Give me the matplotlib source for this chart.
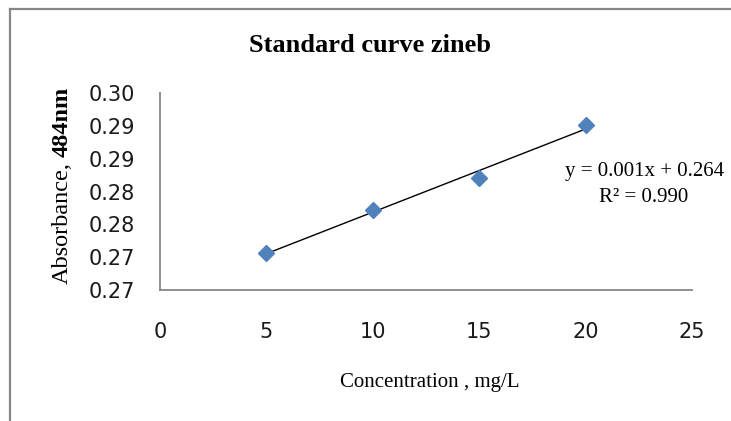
import numpy as np
import matplotlib
matplotlib.use("Agg")
import matplotlib.pyplot as plt
from matplotlib.lines import Line2D

# Calibration data: zineb standard solutions
concentration = [5, 10, 15, 20]                 # mg/L
absorbance = [0.2707, 0.2772, 0.2820, 0.2902]   # at 484 nm

x_ticks = [0, 5, 10, 15, 20, 25]
y_ticks = [0.265, 0.270, 0.275, 0.280, 0.285, 0.290, 0.295]
y_tick_labels = ["0.27", "0.27", "0.28", "0.28", "0.29", "0.29", "0.30"]

title = "Standard curve zineb"
x_label = "Concentration , mg/L"
y_label_main = "Absorbance,"
y_label_unit = "484nm"

W, H = 731, 421
fig = plt.figure(figsize=(W / 100, H / 100), dpi=100)
fig.patch.set_facecolor("white")


def fx(px):
    return px / W


def fy(py):
    return 1 - py / H


# plot area
ax = fig.add_axes([fx(160), fy(290), fx(692) - fx(160), fy(93) - fy(290)])
ax.set_xlim(x_ticks[0], x_ticks[-1])
ax.set_ylim(y_ticks[0], y_ticks[-1])

grey = "#868686"
for side in ("top", "right"):
    ax.spines[side].set_visible(False)
for side in ("left", "bottom"):
    ax.spines[side].set_color(grey)
    ax.spines[side].set_linewidth(1.3)

ax.set_xticks(x_ticks)
ax.set_xticklabels([str(v) for v in x_ticks])
ax.set_yticks(y_ticks)
ax.set_yticklabels(y_tick_labels)
ax.tick_params(axis="both", length=0, labelsize=15, colors="#1a1a1a")
ax.tick_params(axis="y", pad=18)
ax.tick_params(axis="x", pad=23)
for lab in ax.get_xticklabels() + ax.get_yticklabels():
    lab.set_family("DejaVu Sans")

# linear trendline
x = np.array(concentration, dtype=float)
y = np.array(absorbance, dtype=float)
slope, intercept = np.polyfit(x, y, 1)
fit = slope * x + intercept
r2 = 1 - np.sum((y - fit) ** 2) / np.sum((y - y.mean()) ** 2)
xl = np.array([x.min(), x.max()])
ax.plot(xl, slope * xl + intercept, color="black", lw=1.0, zorder=2)

# data points
ax.plot(x, y, linestyle="none", marker="D", markersize=8.5,
        markerfacecolor="#4F81BD", markeredgecolor="#4F81BD", zorder=3,
        clip_on=False)

# trendline equation
ax.text(0.910, 0.535,
        f"y = {slope:.3f}x + {intercept:.3f}\nR\u00b2 = {r2:.3f}",
        transform=ax.transAxes, ha="center", va="center",
        family="Liberation Serif", fontsize=15, linespacing=1.45,
        color="black")

# titles
fig.text(fx(370), fy(45), title, ha="center", va="center",
         family="Liberation Serif", fontweight="bold", fontsize=19)
fig.text(fx(430), fy(382), x_label, ha="center", va="center",
         family="Liberation Serif", fontsize=15)

# y-axis label in two weights, written bottom-to-top
base_x, start_y = fx(68), fy(284)
t1 = fig.text(base_x, start_y, y_label_main, rotation=90,
              rotation_mode="anchor", ha="left", va="baseline",
              family="Liberation Serif", fontsize=17.5)
fig.canvas.draw()
ext = t1.get_window_extent(renderer=fig.canvas.get_renderer())
t2_y = start_y + (ext.height + 5) / H
fig.text(base_x, t2_y, y_label_unit, rotation=90,
         rotation_mode="anchor", ha="left", va="baseline",
         family="Liberation Serif", fontweight="bold", fontsize=17.5)

# chart frame edges
fig.add_artist(Line2D([fx(10), 1.0], [fy(9), fy(9)], transform=fig.transFigure,
                      color=grey, lw=1.6))
fig.add_artist(Line2D([fx(10), fx(10)], [fy(9), 0.0], transform=fig.transFigure,
                      color=grey, lw=1.6))

fig.savefig("out.png", dpi=100, facecolor="white")
